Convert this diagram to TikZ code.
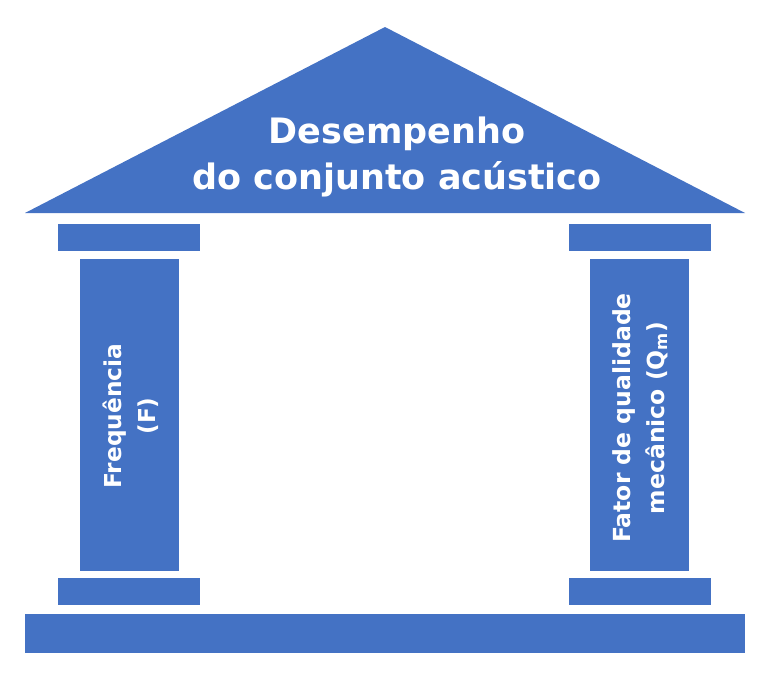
\documentclass[tikz,border=0pt]{standalone}
\usepackage{fontspec}
\setmainfont{DejaVu Sans}
\definecolor{tblue}{HTML}{4472C4}
\begin{document}
\begin{tikzpicture}[x=1pt,y=-1pt,
  block/.style={fill=tblue,draw=none},
  lbl/.style={text=white,font=\bfseries,align=center,inner sep=0pt}]
\useasboundingbox (0,0) rectangle (775,672);
% roof
\fill[tblue] (25,213) -- (385,27) -- (745,213) -- cycle;
\node[lbl,font=\bfseries\fontsize{35}{46}\selectfont] (roof) at (397,157) {Desempenho\\do conjunto acústico};
% left column
\path[block] (58,224) rectangle (200,251);
\path[block] (80,259) rectangle (179,571);
\path[block] (58,578) rectangle (200,605);
\node[lbl,rotate=90,font=\bfseries\fontsize{23.3}{34}\selectfont] (lcol) at (131,416) {Frequência\\(F)};
% right column
\path[block] (569,224) rectangle (711,251);
\path[block] (590,259) rectangle (689,571);
\path[block] (569,578) rectangle (711,605);
\node[lbl,rotate=90,font=\bfseries\fontsize{23.5}{34}\selectfont] (rcol) at (640,418) {Fator de qualidade\\mecânico (Q\textsubscript{m})};
% base
\path[block] (25,614) rectangle (745,653);
\end{tikzpicture}
\end{document}
